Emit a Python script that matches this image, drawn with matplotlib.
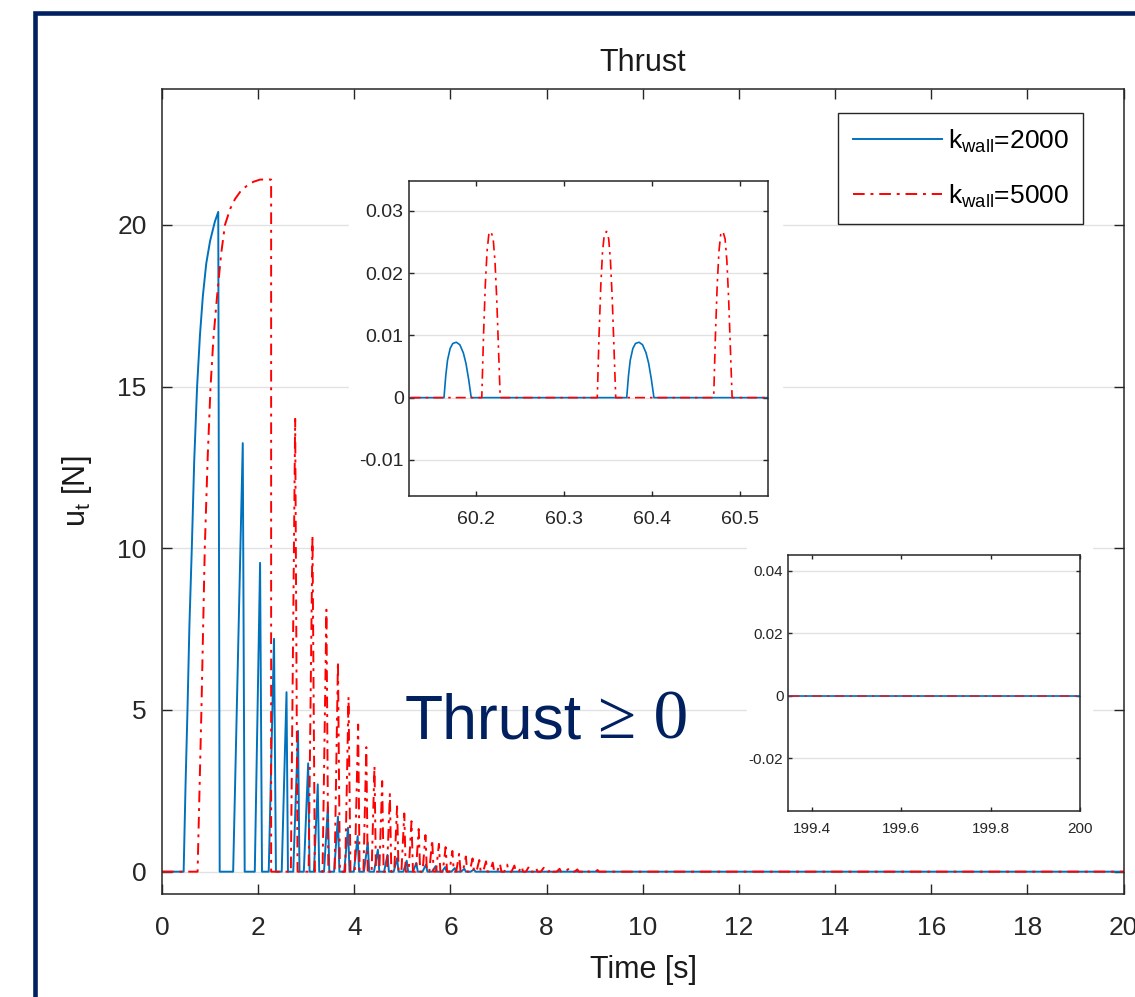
import matplotlib.pyplot as plt
from matplotlib.patches import Rectangle
from matplotlib.ticker import FuncFormatter

plt.rcParams["font.family"] = ["Liberation Sans", "DejaVu Sans"]
plt.rcParams["mathtext.fontset"] = "custom"
plt.rcParams["mathtext.rm"] = "Liberation Sans"
plt.rcParams["axes.unicode_minus"] = False

BLUE = "#0072BD"
RED = "#FF0000"
NAVY = "#002060"
INK = "#262626"
GRID = "#e2e2e2"

LABELS = [r"$\mathregular{k_{wall}}$=2000", r"$\mathregular{k_{wall}}$=5000"]

# ---- main plot, k_wall = 2000 (solid blue) ----
BLUE_FIRST_T = [0.0, 0.45, 0.49, 0.53, 0.57, 0.62, 0.67, 0.73, 0.79, 0.85, 0.92, 1.00, 1.10, 1.17, 1.20]
BLUE_FIRST_U = [0.0, 0.0, 2.7, 5.0, 7.6, 10.0, 12.7, 15.0, 16.6, 17.8, 18.8, 19.5, 20.1, 20.4, 0.0]
BLUE_START = [1.48, 1.93, 2.22, 2.49, 2.73, 2.95, 3.16, 3.37, 3.58, 3.79, 3.99, 4.20,
              4.41, 4.62, 4.82, 5.02, 5.22, 5.42, 5.62, 5.82, 6.02, 6.22, 6.42]
BLUE_PEAK_T = [1.68, 2.04, 2.33, 2.59, 2.83, 3.04, 3.24, 3.45, 3.66, 3.87, 4.07, 4.28,
               4.49, 4.69, 4.89, 5.09, 5.29, 5.49, 5.69, 5.89, 6.09, 6.29, 6.49]
BLUE_PEAK_U = [13.25, 9.55, 7.2, 5.55, 4.35, 3.35, 2.7, 2.0, 1.7, 1.36, 1.1, 0.9,
               0.68, 0.52, 0.42, 0.34, 0.27, 0.22, 0.17, 0.14, 0.11, 0.09, 0.07]
BLUE_END = [1.72, 2.08, 2.37, 2.62, 2.86, 3.07, 3.27, 3.48, 3.69, 3.90, 4.10, 4.31,
            4.52, 4.72, 4.92, 5.12, 5.32, 5.52, 5.72, 5.92, 6.12, 6.32, 6.52]

# ---- main plot, k_wall = 5000 (dash-dot red) ----
RED_FIRST_T = [0.0, 0.74, 0.82, 0.89, 0.95, 1.01, 1.07, 1.14, 1.23, 1.31, 1.42, 1.52,
               1.64, 1.76, 1.90, 2.04, 2.27, 2.27]
RED_FIRST_U = [0.0, 0.0, 5.0, 10.0, 12.8, 15.0, 16.5, 17.7, 19.1, 20.0, 20.5, 20.8,
               21.05, 21.2, 21.33, 21.4, 21.4, 0.0]
RED_START = [2.68, 3.05, 3.34, 3.59, 3.81, 4.01, 4.19, 4.36, 4.52, 4.68, 4.83, 4.98, 5.13,
             5.28, 5.42, 5.56, 5.70, 5.84, 5.98, 6.12, 6.26, 6.40, 6.54, 6.68, 6.82, 6.97,
             7.12, 7.27, 7.42, 7.57, 7.72, 7.88, 8.04, 8.21, 8.39, 8.58, 8.78, 9.00]
RED_PEAK_T = [2.77, 3.13, 3.42, 3.66, 3.88, 4.08, 4.25, 4.42, 4.58, 4.74, 4.89, 5.04, 5.19,
              5.34, 5.48, 5.62, 5.76, 5.90, 6.04, 6.18, 6.32, 6.46, 6.60, 6.74, 6.88, 7.03,
              7.18, 7.33, 7.48, 7.63, 7.78, 7.94, 8.10, 8.27, 8.45, 8.64, 8.84, 9.06]
RED_PEAK_U = [14.0, 10.4, 8.1, 6.5, 5.4, 4.55, 3.85, 3.27, 2.8, 2.4, 2.02, 1.8, 1.56,
              1.32, 1.13, 0.99, 0.86, 0.76, 0.64, 0.55, 0.47, 0.41, 0.36, 0.32, 0.28, 0.25,
              0.22, 0.19, 0.17, 0.15, 0.13, 0.12, 0.10, 0.09, 0.08, 0.07, 0.06, 0.05]
RED_END = [2.82, 3.18, 3.46, 3.70, 3.92, 4.11, 4.28, 4.45, 4.61, 4.77, 4.92, 5.07, 5.22,
           5.37, 5.51, 5.65, 5.79, 5.93, 6.07, 6.21, 6.35, 6.49, 6.63, 6.77, 6.91, 7.06,
           7.21, 7.36, 7.51, 7.66, 7.81, 7.97, 8.13, 8.30, 8.48, 8.67, 8.87, 9.09]

T_END = 20.0

# ---- zoom near t = 60.3 s ----
Z1_BLUE_START = [60.1635, 60.3715]
Z1_BLUE_DT = [0, 0.002, 0.004, 0.007, 0.010, 0.014, 0.018, 0.022, 0.025, 0.028, 0.031]
Z1_BLUE_U = [0, 0.0035, 0.0060, 0.0079, 0.0087, 0.0089, 0.0085, 0.0072, 0.0055, 0.0030, 0]
Z1_RED_START = [60.2065, 60.338, 60.4705]
Z1_RED_DT = [0, 0.002, 0.004, 0.006, 0.008, 0.0105, 0.013, 0.015, 0.017, 0.019, 0.021]
Z1_RED_U = [0, 0.010, 0.018, 0.0235, 0.0262, 0.0267, 0.0255, 0.022, 0.016, 0.008, 0]
Z1_RANGE = [60.124, 60.532]
Z1_XTICKS = [60.2, 60.3, 60.4, 60.5]
Z1_YTICKS = [-0.01, 0, 0.01, 0.02, 0.03]

# ---- zoom at the end of the run ----
Z2_T = [199.3, 200.1]
Z2_BLUE_U = [0, 0]
Z2_RED_U = [0, 0]
Z2_RANGE = [199.347, 200.0]
Z2_XTICKS = [199.4, 199.6, 199.8, 200]
Z2_YTICKS = [-0.02, 0, 0.02, 0.04]

W, H = 1135, 997
DASHDOT = (0, (6, 3, 1.5, 3))


def lobes(first_t, first_u, start, peak_t, peak_u, end, t_end):
    t = list(first_t)
    u = list(first_u)
    for s, pt, pu, e in zip(start, peak_t, peak_u, end):
        t += [s, pt, e]
        u += [0.0, pu, 0.0]
    t.append(t_end)
    u.append(0.0)
    return t, u


def repeat_lobe(starts, dt, du, t0, t1):
    t = [t0]
    u = [0.0]
    for s in starts:
        t += [s + d for d in dt]
        u += list(du)
    t.append(t1)
    u.append(0.0)
    return t, u


def box(px_left, px_top, px_right, px_bottom):
    return [px_left / W, 1 - px_bottom / H, (px_right - px_left) / W, (px_bottom - px_top) / H]


def style_axes(ax, labelsize, ticklen, xpad, ypad):
    ax.grid(axis="y", color=GRID, lw=1.0)
    ax.set_axisbelow(True)
    ax.tick_params(direction="in", top=True, right=True, length=ticklen, width=1,
                   labelsize=labelsize, colors=INK)
    ax.tick_params(axis="x", pad=xpad)
    ax.tick_params(axis="y", pad=ypad)
    for sp in ax.spines.values():
        sp.set_color(INK)
        sp.set_linewidth(1.1)
    ax.xaxis.set_major_formatter(FuncFormatter(lambda v, _: f"{v:g}"))
    ax.yaxis.set_major_formatter(FuncFormatter(lambda v, _: f"{v:g}"))


fig = plt.figure(figsize=(W / 100, H / 100), dpi=100)

# main axes
ax = fig.add_axes(box(162, 89, 1123.5, 894))
bt, bu = lobes(BLUE_FIRST_T, BLUE_FIRST_U, BLUE_START, BLUE_PEAK_T, BLUE_PEAK_U, BLUE_END, T_END)
rt, ru = lobes(RED_FIRST_T, RED_FIRST_U, RED_START, RED_PEAK_T, RED_PEAK_U, RED_END, T_END)
ax.plot(bt, bu, color=BLUE, lw=1.4, label=LABELS[0])
ax.plot(rt, ru, color=RED, lw=1.4, linestyle=DASHDOT, label=LABELS[1])
ax.set_xlim(0, 20)
ax.set_ylim(-0.69, 24.2)
ax.set_xticks(range(0, 21, 2))
ax.set_yticks([0, 5, 10, 15, 20])
style_axes(ax, 19, 7, 16, 11)
ax.set_title("Thrust", fontsize=22, pad=13, color="#1a1a1a")

leg = ax.legend(loc="upper right", bbox_to_anchor=(0.958, 0.970), borderaxespad=0,
                fontsize=19, handlelength=3.4, handletextpad=0.2, labelspacing=1.05,
                borderpad=0.55, fancybox=False, framealpha=1)
leg.get_frame().set_edgecolor(INK)
leg.get_frame().set_linewidth(1.0)

fig.text(77 / W, 1 - 491 / H, r"$\mathregular{u_t}$ [N]", rotation=90, ha="center",
         va="center", fontsize=22, color="#1a1a1a")
fig.text(644 / W, 1 - 970 / H, "Time [s]", ha="center", va="center", fontsize=22,
         color="#1a1a1a")

# white cut-outs behind the insets
fig.patches.append(Rectangle((349 / W, 1 - 541 / H), 433 / W, 373 / H,
                             transform=fig.transFigure, color="white", zorder=2))
fig.patches.append(Rectangle((747 / W, 1 - 850 / H), 345 / W, 312 / H,
                             transform=fig.transFigure, color="white", zorder=2))

# inset 1
a1 = fig.add_axes(box(409.3, 181, 767.7, 496), zorder=3)
t1b, u1b = repeat_lobe(Z1_BLUE_START, Z1_BLUE_DT, Z1_BLUE_U, 60.10, 60.55)
t1r, u1r = repeat_lobe(Z1_RED_START, Z1_RED_DT, Z1_RED_U, 60.10, 60.55)
a1.plot(t1b, u1b, color=BLUE, lw=1.2)
a1.plot(t1r, u1r, color=RED, lw=1.2, linestyle=DASHDOT)
a1.set_xlim(*Z1_RANGE)
a1.set_ylim(-0.0158, 0.0348)
a1.set_xticks(Z1_XTICKS)
a1.set_yticks(Z1_YTICKS)
style_axes(a1, 14, 3.5, 11, 4)

# inset 2
a2 = fig.add_axes(box(788.3, 555, 1080, 810.7), zorder=3)
a2.plot(Z2_T, Z2_BLUE_U, color=BLUE, lw=1.2)
a2.plot(Z2_T, Z2_RED_U, color=RED, lw=1.2, linestyle=DASHDOT, alpha=0.7)
a2.set_xlim(*Z2_RANGE)
a2.set_ylim(-0.0367, 0.0451)
a2.set_xticks(Z2_XTICKS)
a2.set_yticks(Z2_YTICKS)
style_axes(a2, 11, 3, 8, 3.5)

# slide annotation
fig.text(405 / W, 1 - 738 / H, "Thrust", fontsize=45, color=NAVY, va="baseline", zorder=4)
fig.text(598 / W, 1 - 738 / H, "\u2265 0", fontsize=50, color=NAVY, va="baseline",
         family=["Liberation Serif", "DejaVu Serif"], zorder=4)

# slide frame
fig.patches.append(Rectangle((34.5 / W, -0.5), 2.0, 0.5 + 1 - 12.8 / H, transform=fig.transFigure,
                             fill=False, edgecolor=NAVY, lw=3.3, zorder=5))

fig.savefig("out.png", dpi=100)
